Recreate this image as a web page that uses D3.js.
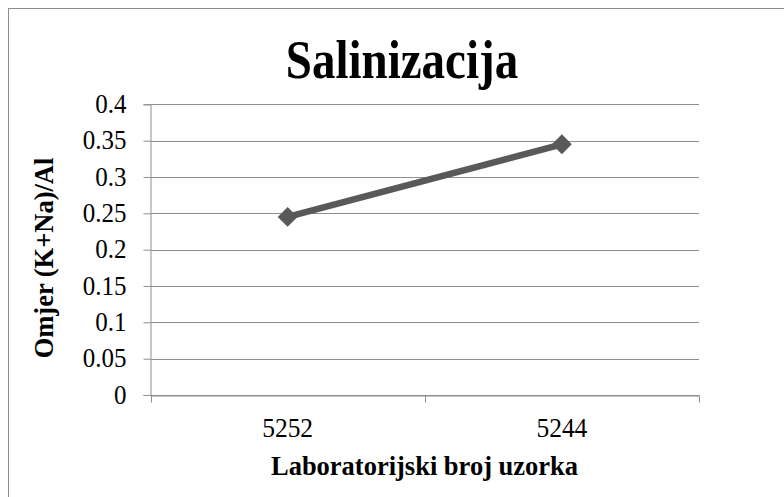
<!DOCTYPE html>
<html>
<head>
<meta charset="utf-8">
<script src="https://cdn.jsdelivr.net/npm/d3@7"></script>
<style>
  html, body { margin: 0; padding: 0; background: #fff; }
  svg { display: block; }
  text { font-family: "Liberation Serif", "Times New Roman", serif; fill: #000; }
</style>
</head>
<body>
<svg id="chart" width="784" height="497"></svg>
<script>
// Sample lab numbers and their (K+Na)/Al ratio
const categories = ["5252", "5244"];
const ratioValues = [0.245, 0.345];
const yTicks = [0, 0.05, 0.1, 0.15, 0.2, 0.25, 0.3, 0.35, 0.4];
const titleText = "Salinizacija";
const xTitleText = "Laboratorijski broj uzorka";
const yTitleText = "Omjer (K+Na)/Al";

const SERIF = "Liberation Serif";
const svg = d3.select("#chart");
const W = 784, H = 497;
const plot = { left: 150.5, right: 699, top: 104.3, bottom: 395 };

// Outer chart frame (continues past the right and bottom edges)
svg.append("rect")
  .attr("x", 8.5).attr("y", 8.5)
  .attr("width", W + 20).attr("height", H + 20)
  .attr("fill", "#fff").attr("stroke", "#8c8c8c").attr("stroke-width", 1);

const x = d3.scaleBand().domain(categories).range([plot.left, plot.right]).paddingInner(0).paddingOuter(0);
const y = d3.scaleLinear().domain([0, 0.4]).range([plot.bottom, plot.top]);

// Horizontal gridlines
svg.append("g")
  .selectAll("line")
  .data(yTicks)
  .join("line")
  .attr("x1", plot.left).attr("x2", plot.right)
  .attr("y1", d => Math.round(y(d)) + 0.5).attr("y2", d => Math.round(y(d)) + 0.5)
  .attr("stroke", "#8e8e8e").attr("stroke-width", 1);

// Y axis
const yAxis = svg.append("g")
  .attr("transform", `translate(${plot.left},0)`)
  .call(d3.axisLeft(y).tickValues(yTicks).tickFormat(d => String(+d.toFixed(2))).tickSize(7).tickPadding(17));
yAxis.attr("font-family", SERIF).attr("font-size", 25);
yAxis.select(".domain").attr("stroke", "#8e8e8e");
yAxis.selectAll(".tick line").attr("stroke", "#8e8e8e");
yAxis.selectAll(".tick text")
  .attr("fill", "#000")
  .attr("transform", "scale(1,1.08)")
  .attr("dy", "0.3em");

// X axis: ticks sit at category boundaries
const xAxis = svg.append("g")
  .attr("transform", `translate(0,${Math.round(plot.bottom) + 0.5})`)
  .call(d3.axisBottom(x).tickSize(0).tickPadding(24));
xAxis.attr("font-family", SERIF).attr("font-size", 25.5);
xAxis.select(".domain").attr("stroke", "#8e8e8e");
xAxis.selectAll(".tick text")
  .attr("fill", "#000")
  .attr("transform", "scale(1,1.1)").attr("y", 20).attr("dy", "0.71em");
const boundaries = categories.map(c => x(c)).concat([x(categories[categories.length - 1]) + x.bandwidth()]);
xAxis.selectAll(".bound")
  .data(boundaries)
  .join("line")
  .attr("class", "bound")
  .attr("x1", d => Math.round(d) + 0.5).attr("x2", d => Math.round(d) + 0.5)
  .attr("y1", 0).attr("y2", 7)
  .attr("stroke", "#8e8e8e");

// Data line
const pts = categories.map((c, i) => [x(c) + x.bandwidth() / 2, y(ratioValues[i])]);
svg.append("path")
  .attr("d", d3.line()(pts))
  .attr("fill", "none").attr("stroke", "#595959").attr("stroke-width", 6.5).attr("stroke-linecap", "round");

// Diamond markers
svg.append("g")
  .selectAll("path")
  .data(pts)
  .join("path")
  .attr("transform", d => `translate(${d[0]},${d[1]})`)
  .attr("d", d3.symbol(d3.symbolDiamond2, 250))
  .attr("fill", "#595959");

// Titles
svg.append("text")
  .attr("transform", "translate(402,78) scale(1,1.18)")
  .attr("text-anchor", "middle")
  .attr("font-family", SERIF)
  .style("font-size", "47px").style("font-weight", "bold")
  .text(titleText);

svg.append("text")
  .attr("transform", "translate(424.5,475) scale(1,1.05)")
  .attr("text-anchor", "middle")
  .attr("font-family", SERIF)
  .style("font-size", "26.5px").style("font-weight", "bold")
  .text(xTitleText);

svg.append("text")
  .attr("transform", "translate(53,258) rotate(-90) scale(1,1.05)")
  .attr("text-anchor", "middle")
  .attr("font-family", SERIF)
  .style("font-size", "26.5px").style("font-weight", "bold")
  .text(yTitleText);
</script>
</body>
</html>
